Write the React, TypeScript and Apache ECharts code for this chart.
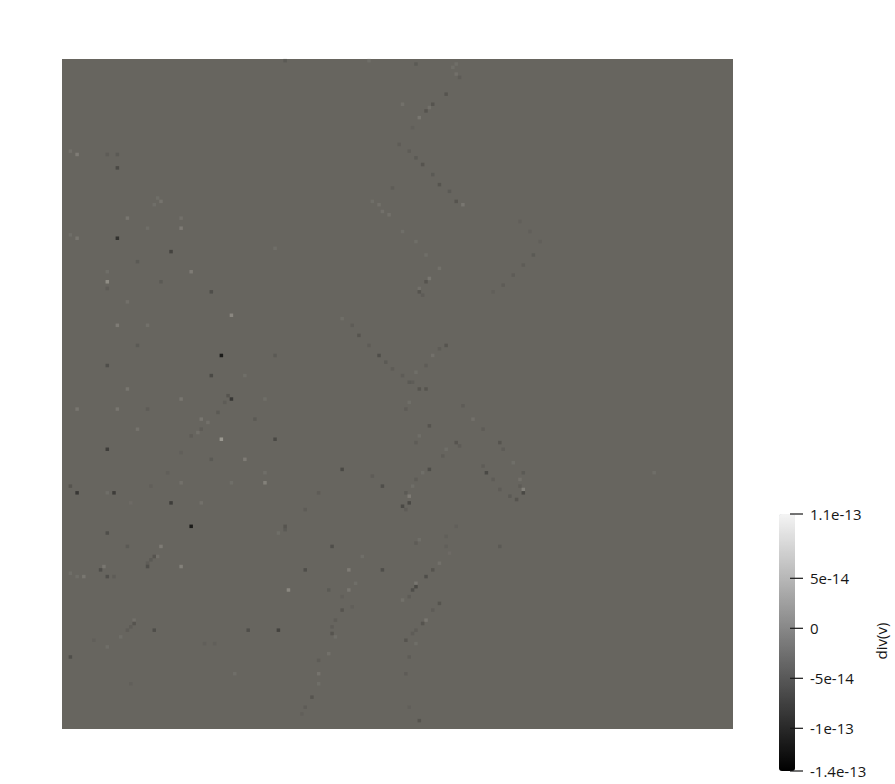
import React, { FC, useEffect, useRef } from "react";
import * as echarts from "echarts";

// field sampled on a 200 x 200 cell grid, row 0 at the top
const GRID_N = 200;

// value range of div(v), in units of 1e-14
const valueMin = -14.27;
const valueMax = 11.43;

// colour bar ticks (units of 1e-14) and their labels
const tickValues = [11.43, 5, 0, -5, -10, -14.27];
const tickLabels = ["1.1e-13", "5e-14", "0", "-5e-14", "-1e-13", "-1.4e-13"];

// non-zero cells: [column, row, div(v) in 1e-14]; all other cells are 0
const cells: number[][] = [
  [2, 27, 2], [4, 28, 4], [13, 28, -1.5], [16, 28, -2], [16, 32, -5], [19, 47, 3], [35, 47, 2],
  [35, 50, 4], [25, 50, 1.5], [4, 53, 3], [16, 53, -9], [2, 52, 1.5], [32, 57, -6], [22, 60, -2],
  [38, 63, 4], [13, 66, 7], [13, 63, 1.5], [29, 66, -2], [44, 69, -4], [13, 68, -1.5], [27, 43, 1.5],
  [28, 41, 1.5], [29, 42, 2.5], [19, 72, 2], [66, 0, -2], [63, 56, 1.5],
  [50, 76, 6], [16, 79, 4], [25, 79, 2], [47, 88, -13], [13, 91, -4], [22, 85, -2], [63, 88, -2],
  [44, 94, -5], [54, 94, 1.5], [19, 98, 3], [35, 101, 3], [50, 101, -8], [4, 104, 3], [16, 104, 3],
  [25, 104, -1.5], [60, 101, 1.5], [41, 107, 3], [57, 107, -2], [22, 110, 2.5], [47, 113, 9],
  [63, 113, -5], [13, 116, -7], [54, 119, 4], [44, 119, -2], [60, 126, 5], [35, 126, 2], [4, 129, -8],
  [2, 127, -3], [15, 129, -7], [13, 129, 1.5], [32, 132, -7], [41, 132, 2], [50, 126, 1.5], [60, 123, 1.5],
  [38, 112, -1.5], [40, 111, 2], [41, 110, -1.5], [43, 108, 2], [46, 105, -2], [48, 102, -1.5],
  [49, 100, -3], [35, 117, -1], [31, 123, -1], [26, 127, -1], [20, 132, 1],
  [83, 77, 1.5], [86, 79, -1.5], [88, 82, -3], [91, 85, -1.5], [94, 88, -4], [96, 90, -2], [98, 92, -1.5],
  [101, 94, -1.5], [103, 96, -2], [106, 98, -3], [108, 98, -3],
  [114, 85, -3], [112, 86, -1.5], [110, 88, 2], [108, 91, -1.5], [105, 93, 1.5], [104, 96, -1.5],
  [103, 102, 1.5], [102, 104, -1.5], [109, 109, -3], [106, 112, 1.5], [105, 114, -1.5],
  [119, 103, -1.5], [122, 107, 2], [125, 110, -1.5], [130, 114, -3], [131, 116, -1.5], [134, 120, 1.5],
  [137, 123, -2], [136, 125, 2], [136, 127, -1.5], [137, 128, 5], [137, 129, -5], [135, 131, -3],
  [133, 130, -2], [130, 128, -1.5], [128, 125, -1.5], [126, 123, -5], [125, 121, -1.5], [118, 115, -1.5],
  [117, 114, -3],
  [114, 116, 1.5], [113, 118, -1.5], [109, 122, -4], [107, 123, 1.5], [105, 125, -1.5], [104, 127, 1.5],
  [102, 129, -2], [103, 130, 4], [103, 132, -5], [101, 133, -5], [102, 134, -1.5],
  [83, 122, -5], [95, 127, -4], [92, 124, -1.5], [76, 129, -1.5], [72, 134, -1.5],
  [91, 0, 1.5], [105, 1, -2], [117, 1, 1.5], [116, 2, 1.5], [117, 4, 2], [118, 5, -1.5], [114, 10, -3],
  [110, 13, -3], [109, 14, 2], [108, 15, -3], [101, 13, 2], [106, 17, 3], [104, 20, -1],
  [100, 25, -1.5], [103, 27, -1.5], [105, 29, -2], [107, 31, -3], [110, 34, -2], [112, 37, -3],
  [115, 39, -2], [117, 42, -3], [119, 43, 3],
  [92, 42, 1.5], [94, 43, 2], [95, 45, 2], [97, 46, 2], [101, 51, 1.5], [105, 54, 1.5], [108, 58, 1.5],
  [112, 62, 2], [109, 65, 3], [108, 66, -3], [106, 68, 2], [106, 69, -3], [107, 70, -1.5],
  [142, 54, -1], [140, 58, -2], [137, 61, -1.5], [134, 64, -1.5], [131, 67, -1.5], [128, 69, -1],
  [136, 48, -1], [139, 51, -1], [98, 38, -1.5],
  [38, 139, -13], [13, 141, -4], [29, 145, 4], [19, 145, -2], [28, 148, 2], [27, 148, -3], [26, 149, -2],
  [25, 150, -1.5], [25, 151, -4], [35, 151, 5], [12, 151, 3], [11, 152, -4], [2, 153, 1.5], [6, 154, 3],
  [4, 154, 1.5], [13, 154, -4], [15, 154, -1.5], [67, 158, 6], [64, 141, 1.5], [66, 140, -2], [66, 139, -3],
  [21, 167, 2], [21, 168, -3], [20, 169, -1.5], [19, 170, -1.5], [17, 172, 1.5], [27, 170, -4],
  [55, 170, -4], [64, 170, -6], [9, 173, -1], [13, 175, 1.5], [2, 178, -4], [42, 174, -1], [45, 174, -1],
  [51, 183, 1.5], [71, 195, -1], [20, 186, -1],
  [80, 145, -4], [72, 152, -4], [85, 152, 4], [95, 152, -4], [89, 148, 1.5], [130, 145, -2],
  [106, 143, 1.5], [105, 144, -1.5], [117, 139, -1], [114, 142, -1], [114, 145, -1], [115, 147, 1],
  [112, 150, 2], [110, 152, -3], [108, 154, -4], [105, 156, 3], [105, 157, -5], [104, 158, -4],
  [103, 160, -1.5], [101, 161, 2],
  [112, 162, -3], [110, 164, -1.5], [108, 167, 3], [107, 168, -3], [105, 170, -1.5], [104, 171, -1.5],
  [102, 173, -3], [105, 174, 1.5], [103, 178, -1.5], [102, 183, -1.5], [103, 193, -1], [106, 197, -3],
  [87, 156, 1.5], [85, 158, 3], [83, 160, -1], [83, 164, -3], [81, 167, -1.5], [80, 169, -1.5],
  [80, 171, -3], [81, 172, 1.5], [79, 177, 2], [76, 179, -1.5], [76, 183, 2.5], [76, 186, 1.5],
  [74, 190, -3], [72, 193, -1.5], [79, 158, -2], [86, 163, -1],
  [176, 123, 1.5]
];

const labelFont = "Open Sans";
const textColor = "#161616";

const App: FC = () => {
  const ref = useRef<HTMLDivElement>(null);

  useEffect(() => {
    const chart = echarts.init(ref.current, null, { renderer: "svg" });

    const option = {
      animation: false,
      backgroundColor: "#ffffff",
      grid: [
        { left: 62, top: 59, width: 671, height: 670, show: true, backgroundColor: "#67655f", borderWidth: 0 },
        { left: 779, top: 514, width: 16, height: 257, show: false }
      ],
      xAxis: [
        { gridIndex: 0, type: "value", min: -0.5, max: GRID_N - 0.5, show: false },
        { gridIndex: 1, type: "value", min: 0, max: 1, show: false }
      ],
      yAxis: [
        { gridIndex: 0, type: "value", min: -0.5, max: GRID_N - 0.5, inverse: true, show: false },
        {
          gridIndex: 1,
          type: "value",
          min: valueMin,
          max: valueMax,
          position: "right",
          axisLine: { show: false },
          splitLine: { show: false },
          axisTick: { show: false },
          axisLabel: {
            customValues: tickValues,
            margin: 15,
            fontSize: 15,
            fontFamily: labelFont,
            color: textColor,
            formatter: (v: number) => {
              const i = tickValues.findIndex((t) => Math.abs(t - v) < 1e-6);
              return i >= 0 ? tickLabels[i] : "";
            }
          }
        }
      ],
      visualMap: [
        {
          type: "continuous",
          show: false,
          min: valueMin,
          max: valueMax,
          dimension: 2,
          seriesIndex: 0,
          inRange: { color: ["#000000", "#bab6ac"] }
        },
        {
          type: "continuous",
          show: true,
          min: valueMin,
          max: valueMax,
          seriesIndex: 1,
          dimension: 1,
          left: 779,
          top: 514,
          itemWidth: 16,
          itemHeight: 257,
          padding: 0,
          calculable: false,
          hoverLink: false,
          inRange: { color: ["#000000", "#f4f4f4"] }
        }
      ],
      graphic: [
        {
          type: "text",
          x: 881,
          y: 641,
          rotation: Math.PI / 2,
          style: {
            text: "div(v)",
            fill: textColor,
            font: `15px "${labelFont}"`,
            align: "center",
            verticalAlign: "middle"
          }
        }
      ],
      series: [
        {
          type: "scatter",
          xAxisIndex: 0,
          yAxisIndex: 0,
          symbol: "rect",
          symbolSize: [3.5, 3.5],
          silent: true,
          data: cells
        },
        {
          // colour-bar tick marks, drawn over the bar's right edge
          type: "custom",
          xAxisIndex: 1,
          yAxisIndex: 1,
          silent: true,
          z: 10,
          data: tickValues.map((v) => [1, v]),
          renderItem: (params: any, api: any) => {
            const p = api.coord([api.value(0), api.value(1)]);
            return {
              type: "line",
              shape: { x1: p[0] - 5, y1: p[1], x2: p[0] + 8, y2: p[1] },
              style: { stroke: textColor, lineWidth: 1.2 }
            };
          }
        }
      ]
    };

    chart.setOption(option as any);
    return () => {
      chart.dispose();
    };
  }, []);

  return (
    <div
      ref={ref}
      style={{ position: "absolute", left: 0, top: 0, width: 895, height: 784 }}
    ></div>
  );
};

export default App;
